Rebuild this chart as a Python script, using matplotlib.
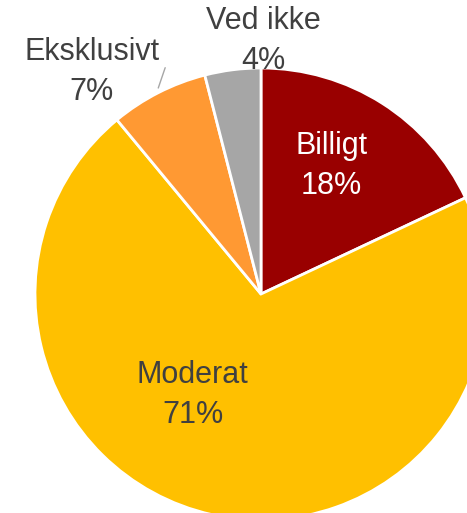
import numpy as np
import matplotlib
matplotlib.use("Agg")
import matplotlib.pyplot as plt

categories = ["Billigt", "Moderat", "Eksklusivt", "Ved ikke"]
values = [18, 71, 7, 4]
colors = ["#990000", "#FFC000", "#FF9933", "#A6A6A6"]
label_colors = ["white", "#404040", "#404040", "#404040"]

# label anchor (last-line baseline) in data units, radius = 1
label_pos = [(0.313, 0.4425), (-0.303, -0.5695), (-0.748, 0.858), (0.009, 0.9956)]

plt.rcParams['font.family'] = ['Liberation Sans', 'DejaVu Sans']

W, H = 467, 513
fig = plt.figure(figsize=(W / 100, H / 100), dpi=100)
cx, cy, r = 261, 294, 226
ax = fig.add_axes([(cx - r) / W, (H - cy - r) / H, 2 * r / W, 2 * r / H])

wedges, _ = ax.pie(values, colors=colors, startangle=90, counterclock=False,
                   radius=1, wedgeprops=dict(edgecolor="white", linewidth=2))
ax.set_aspect('auto')
ax.set_xlim(-1, 1)
ax.set_ylim(-1, 1)
ax.axis('off')

for w, cat, val, col, (lx, ly) in zip(wedges, categories, values, label_colors, label_pos):
    ax.text(lx, ly, f"{cat}\n{val}%", ha='center', va='baseline', color=col,
            fontsize=22, linespacing=1.42, multialignment='center')

# leader line for Eksklusivt
w = wedges[2]
mid = np.deg2rad((w.theta1 + w.theta2) / 2)
ax.annotate("", xy=(1.01 * np.cos(mid), 1.01 * np.sin(mid)), xytext=(-0.42, 1.013),
            arrowprops=dict(arrowstyle='-', color='#A6A6A6', lw=1))

fig.savefig("out.png", dpi=100)
